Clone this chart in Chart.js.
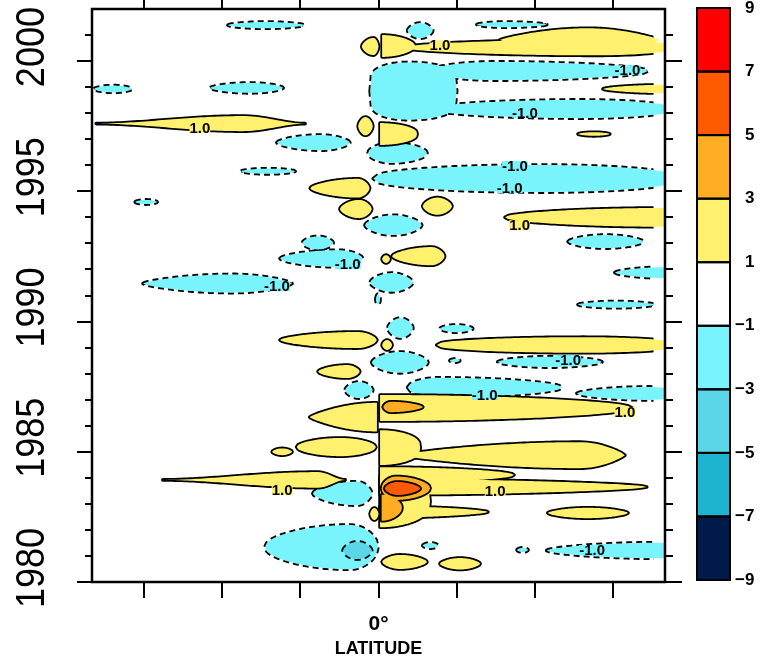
<!DOCTYPE html>
<html>
<head>
<meta charset="utf-8">
<script src="https://cdn.jsdelivr.net/npm/chart.js@4.4.1/dist/chart.umd.min.js"></script>
<style>
  html, body { margin: 0; padding: 0; background: #fff; }
</style>
</head>
<body>
<canvas id="hov" width="760" height="661"></canvas>
<script>
// axis ticks
const yearTicks = [1980, 1985, 1990, 1995, 2000];
const latTicks = [-45, -30, -15, 0, 15, 30, 45];

// colour bar: boundaries top -> bottom and the band colours between them
const barLevels = [9, 7, 5, 3, 1, -1, -3, -5, -7, -9];
const barColors = ['#ff0000', '#ff5a00', '#ffad22', '#fff06e', '#ffffff',
                   '#7af4fc', '#5ad6e8', '#1eb4d0', '#001a4a'];

// anomaly patches:
// [lat west, lat east, year centre, half height (yr), position of widest part, bluntness]
const cool1 = [
  [-28.9, -14.3, 2001.38, 0.12, 0.5, 0.6],
  [5.6, 10.4, 2001.17, 0.29, 0.5, 0.6],
  [18.9, 32.3, 2001.40, 0.10, 0.4, 0.6],
  [-1.6, 15.0, 1998.85, 1.10, 0.45, 0.2],
  [9.9, 51.7, 1999.62, 0.35, 0.3, 0.5],
  [9.9, 58.0, 1998.16, 0.35, 0.6, 0.5],
  [-54.6, -47.3, 1998.93, 0.13, 0.5, 0.6],
  [-32.3, -18.3, 1998.97, 0.19, 0.55, 0.6],
  [-19.5, -5.5, 1996.87, 0.29, 0.6, 0.6],
  [-2.0, 9.3, 1996.47, 0.38, 0.4, 0.5],
  [-1.0, 58.0, 1995.49, 0.52, 0.55, 0.4],
  [-26.4, -16.0, 1995.77, 0.10, 0.5, 0.6],
  [-46.7, -42.5, 1994.59, 0.08, 0.5, 0.6],
  [-2.6, 8.3, 1993.70, 0.38, 0.5, 0.6],
  [36.4, 50.8, 1993.07, 0.25, 0.5, 0.6],
  [-14.6, -8.7, 1993.02, 0.25, 0.5, 0.6],
  [-18.9, -3.0, 1992.42, 0.32, 0.7, 0.6],
  [-1.6, 6.6, 1991.50, 0.36, 0.5, 0.6],
  [-0.5, 0.3, 1990.85, 0.20, 0.5, 0.6],
  [45.4, 58.0, 1991.88, 0.21, 0.8, 0.6],
  [-45.2, -16.6, 1991.46, 0.35, 0.6, 0.7],
  [38.3, 53.0, 1990.65, 0.12, 0.5, 0.6],
  [1.8, 6.6, 1989.75, 0.38, 0.5, 0.6],
  [11.8, 18.1, 1989.73, 0.14, 0.5, 0.6],
  [-1.3, 9.5, 1988.43, 0.40, 0.5, 0.6],
  [22.9, 42.9, 1988.45, 0.20, 0.5, 0.6],
  [13.7, 15.6, 1988.50, 0.06, 0.5, 0.6],
  [-6.4, -1.1, 1987.37, 0.31, 0.5, 0.6],
  [5.6, 35.2, 1987.47, 0.37, 0.2, 0.5],
  [38.1, 58.0, 1987.24, 0.25, 0.7, 0.6],
  [-12.6, -1.3, 1983.40, 0.45, 0.75, 0.6],
  [-21.8, -0.1, 1981.34, 0.85, 0.75, 0.5],
  [8.5, 11.4, 1981.40, 0.10, 0.5, 0.6],
  [32.3, 58.0, 1981.21, 0.30, 0.85, 0.6],
  [26.6, 28.7, 1981.23, 0.08, 0.5, 0.6]
];
const cool3 = [
  [-6.8, -1.3, 1981.21, 0.33, 0.5, 0.6]
];
const warm1 = [
  [-3.2, 0.0, 2000.56, 0.33, 0.7, 0.6],
  [0.7, 7.0, 2000.58, 0.42, 0, 0.5],
  [5.0, 58.0, 2000.52, 0.30, 0.7, 0.5],
  [23.3, 54.0, 2000.81, 0.45, 0.55, 0.8],
  [43.1, 58.0, 1998.93, 0.16, 0.8, 0.6],
  [-54.2, -14.1, 1997.60, 0.29, 0.7, 1.8],
  [-3.9, -1.1, 1997.50, 0.35, 0.5, 0.6],
  [0.3, 7.4, 1997.20, 0.42, 0, 0.4],
  [38.3, 44.4, 1997.20, 0.07, 0.5, 0.6],
  [-13.1, -1.7, 1995.12, 0.36, 0.8, 0.6],
  [-7.4, -1.3, 1994.32, 0.35, 0.6, 0.6],
  [8.5, 14.1, 1994.43, 0.33, 0.5, 0.6],
  [24.3, 58.0, 1994.00, 0.36, 0.9, 0.5],
  [2.6, 12.7, 1992.51, 0.35, 0.75, 0.6],
  [0.7, 2.2, 1992.40, 0.15, 0.5, 0.6],
  [-18.9, -0.3, 1989.29, 0.31, 0.8, 0.6],
  [0.7, 2.6, 1989.10, 0.19, 0.5, 0.6],
  [11.2, 58.0, 1989.10, 0.30, 0.6, 0.4],
  [-11.6, -3.6, 1988.08, 0.25, 0.7, 0.6],
  [-13.2, -0.3, 1986.33, 0.55, 1, 0.8],
  [0.3, 48.7, 1986.68, 0.50, 0, 0.5],
  [-15.7, -0.5, 1985.18, 0.35, 0.55, 0.5],
  [-20.4, -16.6, 1985.00, 0.13, 0.5, 0.6],
  [0.3, 8.0, 1985.16, 0.67, 0, 0.35],
  [4.1, 47.3, 1984.87, 0.50, 0.8, 0.8],
  [0.3, 26.0, 1984.11, 0.30, 0, 0.5],
  [0.3, 51.5, 1983.65, 0.30, 0, 0.6],
  [0.3, 9.9, 1983.10, 1.00, 0, 0.35],
  [0.3, 21.0, 1982.69, 0.22, 0, 0.6],
  [-1.6, 0.0, 1982.61, 0.23, 0.5, 0.6],
  [-41.4, -6.4, 1983.92, 0.30, 0.85, 1.8],
  [32.5, 47.9, 1982.65, 0.20, 0.5, 0.6],
  [0.7, 9.3, 1980.77, 0.27, 0.4, 0.6],
  [11.8, 19.5, 1980.70, 0.22, 0.5, 0.6]
];
const warm3 = [
  [0.9, 8.5, 1986.72, 0.20, 0.2, 0.6],
  [0.6, 9.9, 1983.60, 0.45, 0.3, 0.5],
  [0.6, 4.5, 1982.85, 0.50, 0, 0.5]
];
const warm5 = [
  [1.2, 8.0, 1983.59, 0.25, 0.35, 0.6]
];

// contour labels: [lat, year, text]
const contourLabels = [
  [11.8, 2000.61, '1.0'],
  [47.8, 1999.65, '-1.0'],
  [28.1, 1998.02, '-1.0'],
  [-34.3, 1997.43, '1.0'],
  [26.2, 1995.97, '-1.0'],
  [25.2, 1995.12, '-1.0'],
  [27.1, 1993.70, '1.0'],
  [-5.9, 1992.20, '-1.0'],
  [-19.5, 1991.36, '-1.0'],
  [36.4, 1988.52, '-1.0'],
  [20.4, 1987.18, '-1.0'],
  [47.3, 1986.53, '1.0'],
  [22.4, 1983.49, '1.0'],
  [-18.5, 1983.53, '1.0'],
  [41.0, 1981.23, '-1.0']
];

const FONT = '"Liberation Sans", Arial, sans-serif';

function profile(s, peak, blunt) {
  let v;
  if (peak <= 0) v = Math.cos(s * Math.PI / 2);
  else if (peak >= 1) v = Math.sin(s * Math.PI / 2);
  else {
    const u = s < peak ? 0.5 * s / peak : 0.5 + 0.5 * (s - peak) / (1 - peak);
    v = Math.sin(u * Math.PI);
  }
  return Math.pow(Math.max(v, 0), blunt);
}

function patchPath(ctx, xs, ys, p) {
  const [w, e, yr, h, peak, blunt] = p;
  const n = 60;
  ctx.beginPath();
  for (let i = 0; i <= n; i++) {
    const s = i / n;
    const px = xs.getPixelForValue(w + (e - w) * s);
    const py = ys.getPixelForValue(yr + h * profile(s, peak, blunt));
    if (i === 0) ctx.moveTo(px, py); else ctx.lineTo(px, py);
  }
  for (let i = n; i >= 0; i--) {
    const s = i / n;
    ctx.lineTo(xs.getPixelForValue(w + (e - w) * s),
               ys.getPixelForValue(yr - h * profile(s, peak, blunt)));
  }
  ctx.closePath();
}

function drawGroup(chart, list, color, dashed) {
  const { ctx, chartArea: a, scales: { x, y } } = chart;
  // outline first (wide), then the fill hides the inner half and any internal seams
  ctx.save();
  ctx.beginPath();
  ctx.rect(a.left, a.top, x.getPixelForValue(52.8) - a.left, a.bottom - a.top);
  ctx.clip();
  ctx.lineWidth = 3.6;
  ctx.strokeStyle = '#000';
  ctx.lineJoin = 'round';
  ctx.setLineDash(dashed ? [6, 4] : []);
  list.forEach(p => { patchPath(ctx, x, y, p); ctx.stroke(); });
  ctx.restore();

  ctx.save();
  ctx.beginPath();
  ctx.rect(a.left, a.top, a.right - a.left, a.bottom - a.top);
  ctx.clip();
  ctx.fillStyle = color;
  list.forEach(p => { patchPath(ctx, x, y, p); ctx.fill(); });
  ctx.restore();
}

const hovPlugin = {
  id: 'hov',
  beforeDatasetsDraw(chart) {
    drawGroup(chart, cool1, barColors[5], true);
    drawGroup(chart, cool3, barColors[6], true);
    drawGroup(chart, warm1, barColors[3], false);
    drawGroup(chart, warm3, barColors[2], false);
    drawGroup(chart, warm5, barColors[1], false);

    const { ctx, scales: { x, y } } = chart;
    ctx.save();
    ctx.font = 'bold 15px ' + FONT;
    ctx.textAlign = 'center';
    ctx.textBaseline = 'middle';
    contourLabels.forEach(([lat, yr, t]) => {
      const px = x.getPixelForValue(lat), py = y.getPixelForValue(yr);
      const w = ctx.measureText(t).width;
      ctx.fillStyle = t.startsWith('-') ? barColors[5] : barColors[3];
      ctx.fillRect(px - w / 2, py - 5, w, 10);
      ctx.fillStyle = '#000';
      ctx.fillText(t, px, py + 1);
    });
    ctx.restore();
  },
  afterDraw(chart) {
    const { ctx, chartArea: a, scales: { x, y } } = chart;
    ctx.save();
    ctx.strokeStyle = '#000';
    ctx.lineWidth = 2.5;
    ctx.strokeRect(a.left, a.top, a.right - a.left, a.bottom - a.top);

    // year ticks on both sides, longer every five years
    ctx.lineWidth = 2;
    ctx.beginPath();
    for (let yr = y.min; yr < y.max; yr++) {
      const py = Math.round(y.getPixelForValue(yr));
      const major = yr % 5 === 0;
      ctx.moveTo(a.left, py); ctx.lineTo(a.left - (major ? 15 : 7), py);
      ctx.moveTo(a.right, py); ctx.lineTo(a.right + (major ? 17 : 8), py);
    }
    latTicks.forEach(v => {
      const px = Math.round(x.getPixelForValue(v));
      ctx.moveTo(px, a.bottom); ctx.lineTo(px, a.bottom + 16);
      ctx.moveTo(px, a.top); ctx.lineTo(px, 0);
    });
    ctx.stroke();

    // rotated year labels
    ctx.fillStyle = '#000';
    ctx.font = '40px ' + FONT;
    ctx.textAlign = 'center';
    ctx.textBaseline = 'alphabetic';
    yearTicks.forEach(v => {
      ctx.save();
      ctx.translate(44, y.getPixelForValue(v) - 14);
      ctx.rotate(-Math.PI / 2);
      ctx.scale(0.9, 1);
      ctx.fillText(String(v), 0, 0);
      ctx.restore();
    });

    // colour bar
    const bx = 697, bw = 33, top = a.top - 1, bot = a.bottom - 2;
    const bh = (bot - top) / barColors.length;
    barColors.forEach((c, i) => {
      ctx.fillStyle = c;
      ctx.fillRect(bx, top + i * bh, bw, bh);
    });
    ctx.lineWidth = 2;
    ctx.strokeStyle = '#000';
    barColors.forEach((c, i) => ctx.strokeRect(bx, top + i * bh, bw, bh));
    ctx.fillStyle = '#000';
    ctx.font = 'bold 17px ' + FONT;
    ctx.textBaseline = 'middle';
    barLevels.forEach((lv, i) => {
      const py = top + i * bh;
      ctx.textAlign = 'left';
      ctx.fillText(String(Math.abs(lv)), 745, py);
      if (lv < 0) {
        ctx.textAlign = 'right';
        ctx.fillText('\u2212', 745, py);
      }
    });
    ctx.restore();
  }
};

new Chart(document.getElementById('hov'), {
  type: 'scatter',
  data: { datasets: [] },
  options: {
    responsive: false,
    animation: false,
    devicePixelRatio: 1,
    layout: { padding: { top: 9, right: 95, left: 92, bottom: 0 } },
    plugins: { legend: { display: false }, tooltip: { enabled: false } },
    scales: {
      x: {
        type: 'linear',
        min: -55,
        max: 55,
        position: 'bottom',
        grid: { display: false },
        border: { display: false },
        afterBuildTicks: s => { s.ticks = latTicks.map(v => ({ value: v })); },
        afterFit: s => { s.height = 79; },
        ticks: {
          autoSkip: false,
          maxRotation: 0,
          padding: 22,
          color: '#000',
          font: { family: FONT, size: 21, weight: 'bold' },
          callback: v => (v === 0 ? '0\u00b0' : '')
        },
        title: {
          display: true,
          text: 'LATITUDE',
          color: '#000',
          font: { family: FONT, size: 18, weight: 'bold' },
          padding: { top: 2, bottom: 1 }
        }
      },
      y: {
        type: 'linear',
        min: 1980,
        max: 2002,
        display: false
      }
    }
  },
  plugins: [hovPlugin]
});
</script>
</body>
</html>
